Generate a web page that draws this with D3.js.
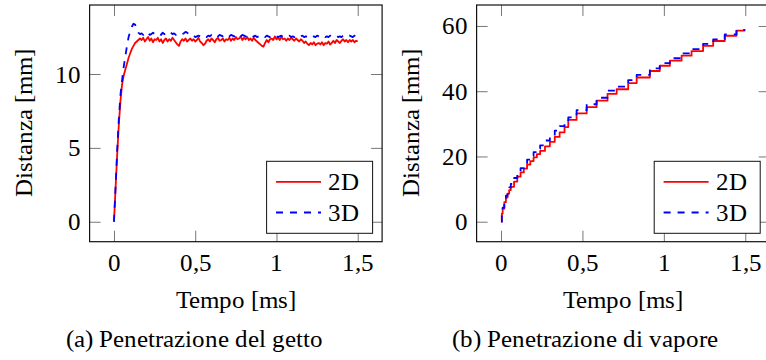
<!DOCTYPE html>
<html>
<head>
<meta charset="utf-8">
<title>Penetrazione</title>
<script src="https://cdn.jsdelivr.net/npm/d3@7/dist/d3.min.js"></script>
<style>
  @font-face {
    font-family: "PaperSerif";
    src: local("Liberation Serif"), local("LiberationSerif"), local("LiberationSerif-Regular"), local("Times New Roman");
  }
  body { margin: 0; }
  #chart text { font-family: "PaperSerif", "Times New Roman", "Liberation Serif", serif !important; }
</style>
</head>
<body>
<svg id="chart" width="766" height="360"></svg>
<script>
// jet penetration, sampled every 0.01 ms from 0 to 1.5 ms
const jetStep = 0.01;
const jet2D = [
  0, 2.3, 4.6, 6.6, 8.2, 9.3, 9.9, 10.3, 10.7, 11.1, 11.4, 11.7, 11.9, 12.1, 12.2, 12.3, 12.4,
  12.3, 12.45, 12.2, 12.35, 12.5, 12.25, 12.4, 12.15, 12.35, 12.3,
  12.45, 12.2, 12.35, 12.1, 12.3, 12.4, 12.2, 12.35, 12.25, 12.45,
  12.3, 12.15, 12.0, 11.9, 12.2, 12.35, 12.25, 12.4, 12.2, 12.3,
  12.4, 12.25, 12.35, 12.2, 12.3, 12.45, 12.2, 12.1, 11.95, 12.05,
  12.25, 12.35, 12.2, 12.4, 12.3, 12.15, 12.35, 12.45, 12.25, 12.3,
  12.4, 12.2, 12.35, 12.3, 12.45, 12.25, 12.4, 12.3, 12.5, 12.35,
  12.4, 12.55, 12.3, 12.45, 12.35, 12.5, 12.3, 12.4, 12.25, 12.45,
  12.3, 12.2, 12.1, 12.0, 11.9, 11.85, 12.1, 12.3, 12.15, 12.35,
  12.4, 12.3, 12.55, 12.35, 12.45, 12.3, 12.5, 12.35, 12.4, 12.25,
  12.4, 12.3, 12.45, 12.35, 12.25, 12.4, 12.3, 12.2, 12.35, 12.25,
  12.1, 12.2, 12.05, 11.95, 12.1, 12.0, 12.15, 11.95, 12.05, 12.1,
  12.0, 12.15, 11.95, 12.1, 12.05, 12.2, 12.0, 12.1, 12.25, 12.1,
  12.3, 12.2, 12.1, 12.25, 12.35, 12.2, 12.3, 12.15, 12.3, 12.2,
  12.3, 12.15, 12.25, 12.2
];
const jet3D = [
  0, 2.4, 4.9, 7.0, 8.6, 9.6, 10.5, 11.2, 11.9, 12.5, 12.9, 13.2, 13.4, 13.35, 13.0, 12.8, 12.7,
  12.75, 12.65, 12.8, 12.7, 12.75, 12.65, 12.7, 12.8, 12.7, 12.65,
  12.75, 12.7, 12.65, 12.8, 12.7, 12.75, 12.65, 12.7, 12.8, 12.7,
  12.75, 12.65, 12.7, 12.75, 12.8, 12.7, 12.75, 12.85, 12.8, 12.7,
  12.6, 12.55, 12.6, 12.5, 12.55, 12.6, 12.55, 12.5, 12.6, 12.55,
  12.5, 12.6, 12.55, 12.65, 12.55, 12.5, 12.6, 12.55, 12.65, 12.6,
  12.55, 12.6, 12.5, 12.6, 12.55, 12.65, 12.6, 12.55, 12.6, 12.5,
  12.6, 12.55, 12.65, 12.6, 12.55, 12.5, 12.6, 12.55, 12.5, 12.55,
  12.6, 12.5, 12.55, 12.6, 12.5, 12.55, 12.5, 12.6, 12.55, 12.5,
  12.55, 12.5, 12.6, 12.55, 12.5, 12.55, 12.6, 12.5, 12.55, 12.5,
  12.55, 12.6, 12.5, 12.55, 12.5, 12.6, 12.55, 12.5, 12.55, 12.6,
  12.5, 12.55, 12.5, 12.6, 12.55, 12.5, 12.55, 12.5, 12.6, 12.55,
  12.5, 12.55, 12.6, 12.5, 12.55, 12.5, 12.6, 12.55, 12.5, 12.55,
  12.6, 12.5, 12.55, 12.5, 12.6, 12.55, 12.5, 12.55, 12.6, 12.55,
  12.5, 12.6, 12.55, 12.6
];

// vapour penetration (stepwise)
const vaporTime3D = [0, 0.005, 0.01, 0.02, 0.03, 0.04, 0.05, 0.06, 0.08, 0.1, 0.12, 0.14, 0.16, 0.18, 0.2,
  0.22, 0.24, 0.27, 0.3, 0.33, 0.36, 0.39, 0.413, 0.464, 0.526, 0.587, 0.654, 0.71, 0.781, 0.833,
  0.914, 0.975, 1.037, 1.109, 1.17, 1.241, 1.303, 1.374, 1.446, 1.5];
const vapor3D = [0, 2.7, 4.3, 6.4, 8.0, 9.3, 10.5, 11.6, 13.4, 15.0, 16.4, 17.7, 19.0, 20.2, 21.3,
  22.4, 23.4, 24.9, 26.4, 27.9, 29.3, 30.7, 32.0, 34.2, 36.0, 38.0, 40.2, 41.4, 43.4, 45.0,
  47.0, 48.6, 50.1, 51.6, 52.9, 54.5, 55.9, 57.4, 58.8, 58.8];
const vaporTime2D = [0, 0.005, 0.01, 0.02, 0.03, 0.04, 0.05, 0.06, 0.08, 0.1, 0.12, 0.14, 0.16, 0.18, 0.2,
  0.22, 0.24, 0.27, 0.3, 0.33, 0.36, 0.39, 0.413, 0.464, 0.526, 0.587, 0.654, 0.71, 0.781, 0.833,
  0.914, 0.975, 1.037, 1.109, 1.17, 1.241, 1.303, 1.374, 1.446, 1.5];
const vapor2D = [0, 2.5, 4.0, 6.0, 7.4, 8.6, 9.7, 10.7, 12.3, 13.8, 15.1, 16.3, 17.5, 18.6, 19.7,
  20.7, 21.7, 23.1, 24.5, 26.0, 27.4, 29.0, 31.2, 33.2, 35.1, 37.1, 39.2, 40.6, 42.5, 44.2,
  46.2, 47.8, 49.4, 50.9, 52.3, 53.9, 55.4, 57.0, 58.6, 58.6];

const timeTicks = [0, 0.5, 1, 1.5];
const timeTickLabels = ['0', '0,5', '1', '1,5'];
const jetTicks = [0, 5, 10];
const vaporTicks = [0, 20, 40, 60];
const seriesNames = ['2D', '3D'];
const seriesColors = ['#ff0000', '#0000ff'];
const xTitle = 'Tempo [ms]';
const yTitle = 'Distanza [mm]';
const captions = ['(a) Penetrazione del getto', '(b) Penetrazione di vapore'];

const svg = d3.select('#chart');

const setFont = (sel) => sel
  .style('font-family', '"PaperSerif", "Times New Roman", "Liberation Serif", serif')
  .style('font-size', '25px')
  .attr('fill', '#000');

const drawPanel = (opt) => {
  const x = d3.scaleLinear().domain([-0.15, 1.65]).range(opt.xRange);
  const y = d3.scaleLinear().domain(opt.yDomain).range([241.7, 5]);
  const [left, right] = opt.xRange;
  const top = 5, bottom = 241.7;
  const tick = 11;

  const styleAxis = (a) => {
    a.attr('font-family', null).attr('font-size', null);
    a.select('.domain').remove();
    a.selectAll('line').attr('stroke', '#777').attr('stroke-width', 1);
    setFont(a.selectAll('text'));
  };

  svg.append('g')
    .attr('transform', `translate(0,${bottom})`)
    .call(d3.axisBottom(x).tickValues(timeTicks).tickSize(-tick).tickPadding(12)
      .tickFormat((d, i) => timeTickLabels[i]))
    .call(styleAxis);
  svg.append('g')
    .attr('transform', `translate(0,${top})`)
    .call(d3.axisTop(x).tickValues(timeTicks).tickSize(-tick).tickFormat(''))
    .call(styleAxis);
  svg.append('g')
    .attr('transform', `translate(${left},0)`)
    .call(d3.axisLeft(y).tickValues(opt.yTicks).tickSize(-tick).tickPadding(9))
    .call(styleAxis);
  svg.append('g')
    .attr('transform', `translate(${right},0)`)
    .call(d3.axisRight(y).tickValues(opt.yTicks).tickSize(-tick).tickFormat(''))
    .call(styleAxis);

  const clip = `clip-${opt.id}`;
  svg.append('clipPath').attr('id', clip)
    .append('rect').attr('x', left).attr('y', top)
    .attr('width', right - left).attr('height', bottom - top);

  opt.series.forEach((s, i) => {
    const line = d3.line()
      .x(d => x(d[0])).y(d => y(d[1]))
      .curve(opt.curve);
    svg.append('path')
      .datum(s)
      .attr('clip-path', `url(#${clip})`)
      .attr('fill', 'none')
      .attr('stroke', seriesColors[i])
      .attr('stroke-width', 1.8)
      .attr('stroke-linejoin', 'round')
      .attr('stroke-dasharray', i === 1 ? '7,7' : null)
      .attr('d', line);
  });

  svg.append('rect')
    .attr('x', left).attr('y', top)
    .attr('width', right - left).attr('height', bottom - top)
    .attr('fill', 'none').attr('stroke', '#111').attr('stroke-width', 1.2);

  // legend
  const lw = 106, lh = 72;
  const lx = right - 9.5 - lw, ly = bottom - 8.4 - lh;
  svg.append('rect').attr('x', lx).attr('y', ly).attr('width', lw).attr('height', lh)
    .attr('fill', '#fff').attr('stroke', '#111').attr('stroke-width', 1);
  seriesNames.forEach((name, i) => {
    const ry = ly + 20.6 + i * 30.6;
    svg.append('line')
      .attr('x1', lx + 9.4).attr('x2', lx + 54.4).attr('y1', ry).attr('y2', ry)
      .attr('stroke', seriesColors[i]).attr('stroke-width', 1.9)
      .attr('stroke-dasharray', i === 1 ? '7,7' : null);
    svg.append('text')
      .attr('x', lx + 61.5).attr('y', ry + 8.3)
      .call(setFont)
      .text(name);
  });

  svg.append('text')
    .attr('text-anchor', 'middle')
    .attr('x', (left + right) / 2).attr('y', 307.7)
    .call(setFont)
    .text(xTitle);

  svg.append('text')
    .attr('text-anchor', 'middle')
    .attr('transform', `translate(${opt.yTitleX},${(top + bottom) / 2}) rotate(-90)`)
    .call(setFont)
    .text(yTitle);

  svg.append('text')
    .attr('text-anchor', 'middle')
    .attr('x', opt.captionX).attr('y', 346.7)
    .call(setFont)
    .text(opt.caption);
};

const jetPoints = [jet2D, jet3D].map(vals => vals.map((v, i) => [i * jetStep, v]));
const vaporPoints = [
  vapor2D.map((v, i) => [vaporTime2D[i], v]),
  vapor3D.map((v, i) => [vaporTime3D[i], v])
];

drawPanel({
  id: 'a', xRange: [89.6, 382.1], yDomain: [-1.35, 14.67], yTicks: jetTicks,
  series: jetPoints, curve: d3.curveLinear,
  yTitleX: 31.7, captionX: 194.5, caption: captions[0]
});
drawPanel({
  id: 'b', xRange: [476.6, 769.7], yDomain: [-6.13, 66.43], yTicks: vaporTicks,
  series: vaporPoints, curve: d3.curveStepAfter,
  yTitleX: 419.3, captionX: 585, caption: captions[1]
});
</script>
</body>
</html>
